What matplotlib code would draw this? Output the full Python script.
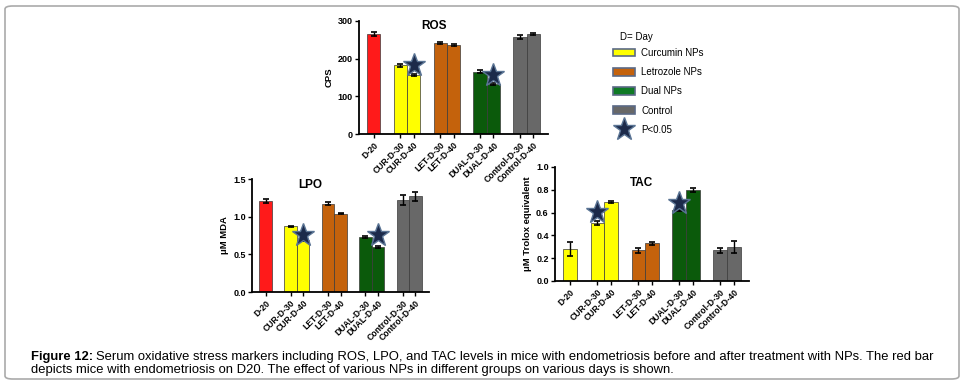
import matplotlib
matplotlib.use('Agg')
import matplotlib.pyplot as plt
from matplotlib.patches import Patch, FancyBboxPatch
from matplotlib.lines import Line2D
import numpy as np

plt.rcParams['font.family'] = ['Liberation Sans', 'DejaVu Sans']

# dados
labels = ['D-20', 'CUR-D-30', 'CUR-D-40', 'LET-D-30', 'LET-D-40',
          'DUAL-D-30', 'DUAL-D-40', 'Control-D-30', 'Control-D-40']
pos = [0, 2, 3, 5, 6, 8, 9, 11, 12]

ros = [265, 183, 157, 241, 236, 165, 133, 258, 265]
ros_err = [5, 4, 3, 3, 2, 4, 3, 5, 2]
ros_star = [(3, 183), (9, 157)]

lpo = [1.21, 0.87, 0.69, 1.17, 1.04, 0.73, 0.60, 1.22, 1.27]
lpo_err = [0.03, 0.01, 0.01, 0.02, 0.01, 0.01, 0.01, 0.07, 0.06]
lpo_star = [(3, 0.757), (9, 0.757)]

tac = [0.28, 0.51, 0.69, 0.27, 0.33, 0.62, 0.80, 0.27, 0.30]
tac_err = [0.06, 0.02, 0.01, 0.02, 0.015, 0.01, 0.02, 0.02, 0.05]
tac_star = [(2, 0.605), (8, 0.684)]

# cores
red = '#ff1a1a'
yel = '#ffff00'
ora = '#c4620c'
grn = '#0b5a0b'
gry = '#686868'
cols = [red, yel, yel, ora, ora, grn, grn, gry, gry]
cols_tac = [yel, yel, yel, ora, ora, grn, grn, gry, gry]

fig = plt.figure(figsize=(9.65, 3.85), dpi=100)

# moldura
fig.patches.append(FancyBboxPatch((5/965, 6/385), 954/965, 373/385,
                                  boxstyle='round,pad=0,rounding_size=0.008',
                                  transform=fig.transFigure, fill=False,
                                  edgecolor='#aaaaaa', lw=1.2))


def painel(rect, vals, errs, stars, colors, ylim, yticks, yfmt, ylabel, title, tpos):
    ax = fig.add_axes(rect)
    ax.bar(pos, vals, width=1.0, color=colors, edgecolor='#3a3a3a', lw=0.5, zorder=2)
    ax.errorbar(pos, vals, yerr=errs, fmt='none', ecolor='black', elinewidth=1.0,
                capsize=2.5, capthick=1.2, zorder=3)
    for sx, sy in stars:
        ax.plot(sx, sy, marker='*', ms=17, mfc='#1c2a4a', mec='#5a7494', mew=1.0, zorder=4)
    ax.set_xlim(-1.1, 13.1)
    ax.set_ylim(*ylim)
    ax.set_yticks(yticks)
    ax.set_yticklabels([yfmt.format(v) for v in yticks], fontsize=6.5, fontweight='bold')
    ax.set_xticks(pos)
    ax.set_xticklabels(labels, rotation=45, ha='right', rotation_mode='anchor',
                       fontsize=6.2, fontweight='bold')
    ax.tick_params(axis='both', length=3, width=1.0, pad=1.5)
    for s in ['top', 'right']:
        ax.spines[s].set_visible(False)
    for s in ['left', 'bottom']:
        ax.spines[s].set_linewidth(1.3)
    ax.set_ylabel(ylabel, fontsize=6.8, fontweight='bold', labelpad=3)
    ax.text(tpos[0], tpos[1], title, ha='center', va='center', fontsize=8.5, fontweight='bold')
    ax.patch.set_alpha(0)
    return ax


painel([359/965, 1-134/385, 189/965, 113/385], ros, ros_err, ros_star, cols,
       (0, 300), [0, 100, 200, 300], '{:.0f}', 'CPS', 'ROS', (4.5, 287))
painel([252/965, 1-292/385, 177/965, 113/385], lpo, lpo_err, lpo_star, cols,
       (0, 1.5), [0, 0.5, 1.0, 1.5], '{:.1f}', 'μM MDA', 'LPO', (3.6, 1.42))
painel([555/965, 1-281/385, 194/965, 114/385], tac, tac_err, tac_star, cols_tac,
       (0, 1.0), [0, 0.2, 0.4, 0.6, 0.8, 1.0], '{:.1f}', 'μM Trolox equivalent', 'TAC', (5.2, 0.86))

# legenda
leg_labels = ['Curcumin NPs', 'Letrozole NPs', 'Dual NPs', 'Control', 'P<0.05']
leg_cols = [yel, ora, '#0f7a25', gry]
handles = [Patch(facecolor=c, edgecolor='#5b6a86', lw=1.2) for c in leg_cols]
handles.append(Line2D([], [], ls='none', marker='*', ms=17, mfc='#1c2a4a', mec='#5a7494', mew=1.0))
fig.text(620/965, 1-37/385, 'D= Day', fontsize=7, va='center', ha='left')
leg = fig.legend(handles, leg_labels, loc='upper left',
                 bbox_to_anchor=(609/965, 1-44/385), frameon=False, fontsize=7,
                 labelspacing=0.95, handlelength=2.3, borderaxespad=0,
                 handleheight=0.85, handletextpad=0.6)

# legenda da figura
y1 = 1 - 357/385
y2 = 1 - 370/385
t = fig.text(31/965, y1, 'Figure 12:', fontsize=9.4, fontweight='bold', va='center')
fig.canvas.draw()
bb = t.get_window_extent()
fig.text((bb.x1 + 3)/965, y1,
         'Serum oxidative stress markers including ROS, LPO, and TAC levels in mice with '
         'endometriosis before and after treatment with NPs. The red bar',
         fontsize=9.4, va='center')
fig.text(31/965, y2, 'depicts mice with endometriosis on D20. The effect of various NPs in '
         'different groups on various days is shown.', fontsize=9.4, va='center')

fig.savefig('out.png', dpi=100)
